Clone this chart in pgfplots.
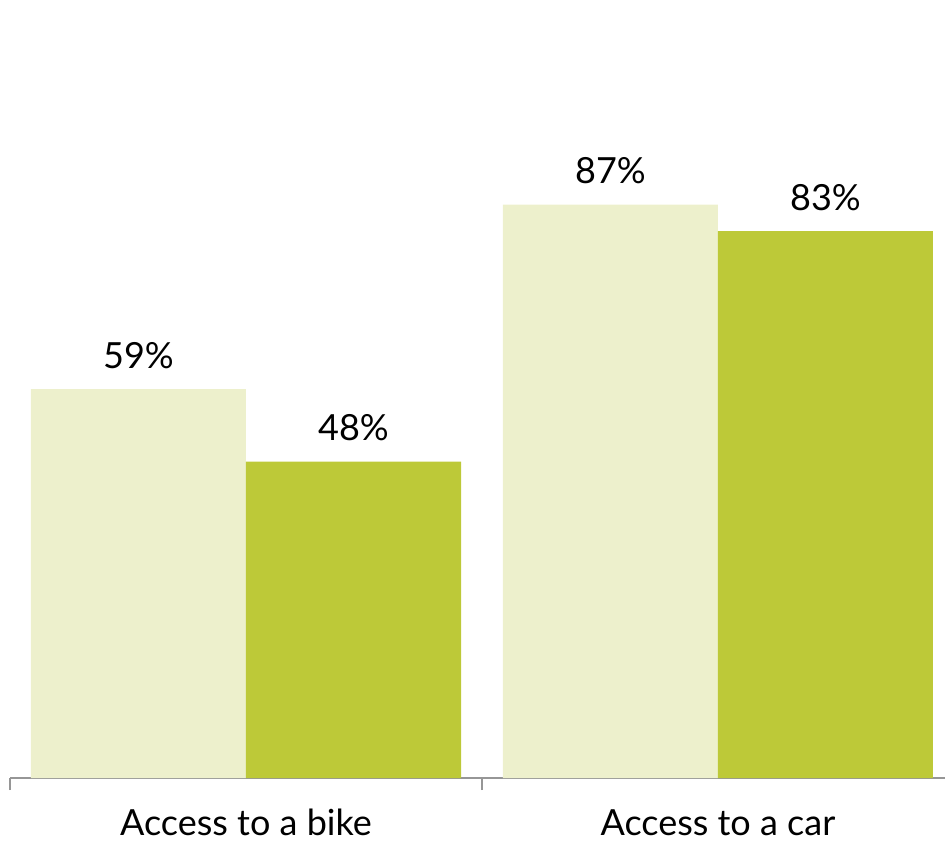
\documentclass[border=0pt]{standalone}
\usepackage{pgfplots}
\pgfplotsset{compat=1.18}
\usepackage{fontspec}
\setmainfont{Lato}
\definecolor{lightbar}{RGB}{237,240,204}
\definecolor{darkbar}{RGB}{189,201,56}
\definecolor{axisgray}{RGB}{150,150,150}
\begin{document}
\begin{tikzpicture}
\path[use as bounding box] (0,0) rectangle (472.5pt,420pt);
\begin{axis}[
  at={(5pt,31pt)}, anchor=south west,
  scale only axis,
  width=467.5pt, height=329.5pt,
  xmin=-0.5, xmax=1.481,
  ymin=0, ymax=100,
  ybar=0pt, bar width=107.5pt,
  axis x line*=bottom,
  axis y line=none,
  x axis line style={draw=axisgray, line width=1pt, -},
  xtick={0,1},
  xticklabels={Access to a bike, Access to a car},
  major tick length=0pt,
  xticklabel style={anchor=base, yshift=-28.5pt, font=\fontsize{18}{20}\selectfont},
  extra x ticks={-0.5,0.5},
  extra x tick labels={},
  extra x tick style={major tick length=6pt, tick align=outside, tick style={draw=axisgray, line width=0.8pt}},
  /pgf/number format/assume math mode=true,
  nodes near coords={\pgfmathprintnumber{\pgfplotspointmeta}\%},
  every node near coord/.append style={anchor=base, yshift=10.5pt, font=\fontsize{18}{20}\selectfont, text=black},
  clip=false,
]
\addplot[fill=lightbar, draw=none] coordinates {(0,59) (1,87)};
\addplot[fill=darkbar, draw=none] coordinates {(0,48) (1,83)};
\end{axis}
\end{tikzpicture}
\end{document}
